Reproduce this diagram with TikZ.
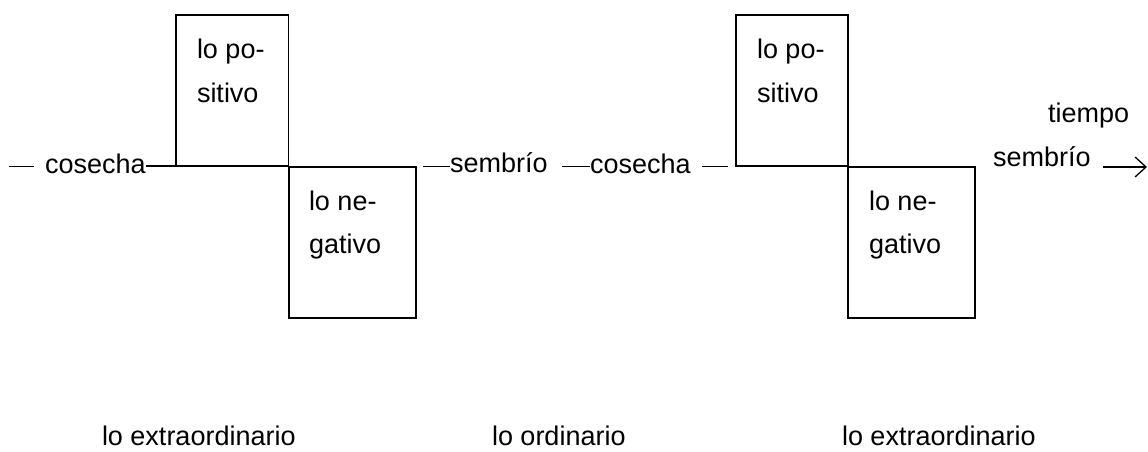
\documentclass[tikz,border=0pt]{standalone}
\usepackage{fontspec}
\setmainfont{Liberation Sans}
\usetikzlibrary{arrows.meta}
\begin{document}
\begin{tikzpicture}[x=1pt,y=-1pt,
  lbl/.style={inner sep=0pt,outer sep=0pt,anchor=base west,font=\fontsize{27}{32}\selectfont},
  boxnode/.style={draw,line width=1.3pt,inner sep=0pt,outer sep=0pt,anchor=north west,minimum height=151pt},
  conn/.style={line width=1.3pt}]
\useasboundingbox (0,0) rectangle (1148,451);
% boxes
\node[boxnode,minimum width=112.7pt] (b1) at (176,15) {};
\node[boxnode,minimum width=127pt] (b2) at (289,167) {};
\node[boxnode,minimum width=112pt] (b3) at (736,15) {};
\node[boxnode,minimum width=127pt] (b4) at (848,167) {};
% box texts
\node[lbl] (p1a) at (197,58) {lo po-};
\node[lbl] (p1b) at (197,102) {sitivo};
\node[lbl] (n1a) at (309,210) {lo ne-};
\node[lbl] (n1b) at (309,253) {gativo};
\node[lbl] (p2a) at (757,58) {lo po-};
\node[lbl] (p2b) at (757,102) {sitivo};
\node[lbl] (n2a) at (869,210) {lo ne-};
\node[lbl] (n2b) at (869,253) {gativo};
% line labels
\node[lbl] (cos1) at (45,173) {cosecha};
\node[lbl] (sem1) at (450,172) {sembrío};
\node[lbl] (cos2) at (590,173) {cosecha};
\node[lbl] (sem2) at (993,166) {sembrío};
\node[lbl] (tie) at (1048,122) {tiempo};
% bottom labels
\node[lbl] (ext1) at (102,445) {lo extraordinario};
\node[lbl] (ord) at (492,445) {lo ordinario};
\node[lbl] (ext2) at (842,445) {lo extraordinario};
% connectors
\coordinate (d0) at (9,166.5);
\coordinate (d1) at (34,166.5);
\draw[conn] (d0) -- (d1);
\draw[conn] (cos1.east |- b1.south) -- (b1.south west);
\coordinate (c2) at (423,166.5);
\draw[conn] (c2) -- (sem1.west |- c2);
\coordinate (c3) at (562,166.5);
\draw[conn] (c3) -- (cos2.west |- c3);
\coordinate (c4) at (702,166.5);
\coordinate (c5) at (728,166.5);
\draw[conn] (c4) -- (c5);
\coordinate (a0) at (1103,167);
\coordinate (a1) at (1147,167);
\draw[conn,-{Straight Barb[length=11pt,width=20pt,line width=1.3pt]}] (a0) -- (a1);
\end{tikzpicture}
\end{document}
